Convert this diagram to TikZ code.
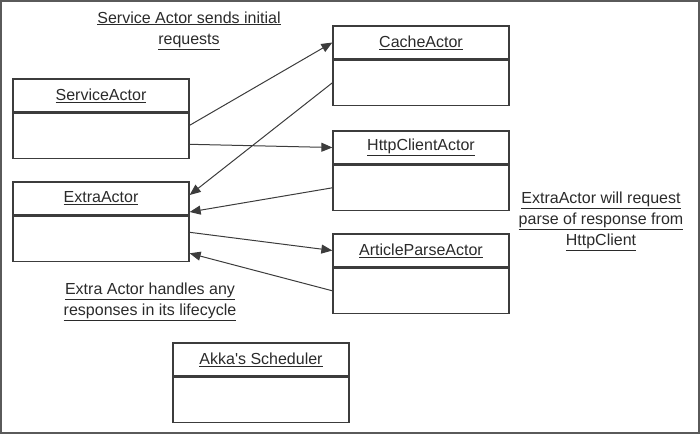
\documentclass[tikz,border=0pt]{standalone}
\usepackage{fontspec}
\setmainfont{Liberation Sans}[Ligatures=TeXOff]
\usepackage{xcolor}
\usepackage{tikz}
\usetikzlibrary{arrows.meta,positioning}
\definecolor{framegray}{HTML}{5A5A5A}
\definecolor{boxdark}{HTML}{3C3C3C}
\definecolor{textdark}{HTML}{2A2A2A}
\tikzset{
  every node/.append style={font=\fontsize{16}{21}\selectfont,text=textdark},
  actorhead/.style={draw=boxdark,line width=1.3pt,minimum width=176pt,minimum height=33pt,inner sep=0pt},
  actorbody/.style={draw=boxdark,line width=1.3pt,minimum width=176pt,minimum height=45pt,inner sep=0pt},
  msg/.style={-{Triangle[length=11pt,width=9pt]},line width=1pt,boxdark},
  note/.style={align=center,inner sep=0pt}
}

\begin{document}
\begin{tikzpicture}[x=1pt,y=-1pt]
  \useasboundingbox (0,0) rectangle (700,434);
  \draw[framegray,line width=1.5pt] (1,1) rectangle (699,433);
  % actors
  \node[actorhead] (srvh) at (101,95.5) {\underline{ServiceActor}};
  \node[actorbody,below=0pt of srvh] (srvb) {};
  \node[actorhead] (extrah) at (101,198.5) {\underline{ExtraActor}};
  \node[actorbody,below=0pt of extrah] (extrab) {};
  \node[actorhead] (cacheh) at (421,42.5) {\underline{CacheActor}};
  \node[actorbody,below=0pt of cacheh] (cacheb) {};
  \node[actorhead] (httph) at (421,147.5) {\underline{HttpClientActor}};
  \node[actorbody,below=0pt of httph] (httpb) {};
  \node[actorhead] (parseh) at (421,250.5) {\underline{ArticleParseActor}};
  \node[actorbody,below=0pt of parseh] (parseb) {};
  \node[actorhead] (schedh) at (261,359.5) {\underline{Akka's Scheduler}};
  \node[actorbody,below=0pt of schedh] (schedb) {};
  % notes
  \node[note] (sendnote) at (189,30.5) {\underline{Service Actor sends initial}\\\underline{requests}};
  \node[note] (handlenote) at (150,301.5) {\underline{Extra Actor handles any}\\\underline{responses in its lifecycle}};
  \node[note] (parsenote) at (601,221) {\underline{ExtraActor will request}\\\underline{parse of response from}\\\underline{HttpClient}};
  % messages
  \draw[msg] ([yshift=10.5pt]srvb.east) -- (cacheh.west);
  \draw[msg] ([yshift=-8.5pt]srvb.east) -- (httph.west);
  \draw[msg] (cacheb.west) -- ([yshift=3.5pt]extrah.east);
  \draw[msg] (httpb.west) -- ([yshift=-13.5pt]extrah.east);
  \draw[msg] ([yshift=6.5pt]extrab.east) -- (parseh.west);
  \draw[msg] (parseb.west) -- ([yshift=-14.5pt]extrab.east);
\end{tikzpicture}
\end{document}
